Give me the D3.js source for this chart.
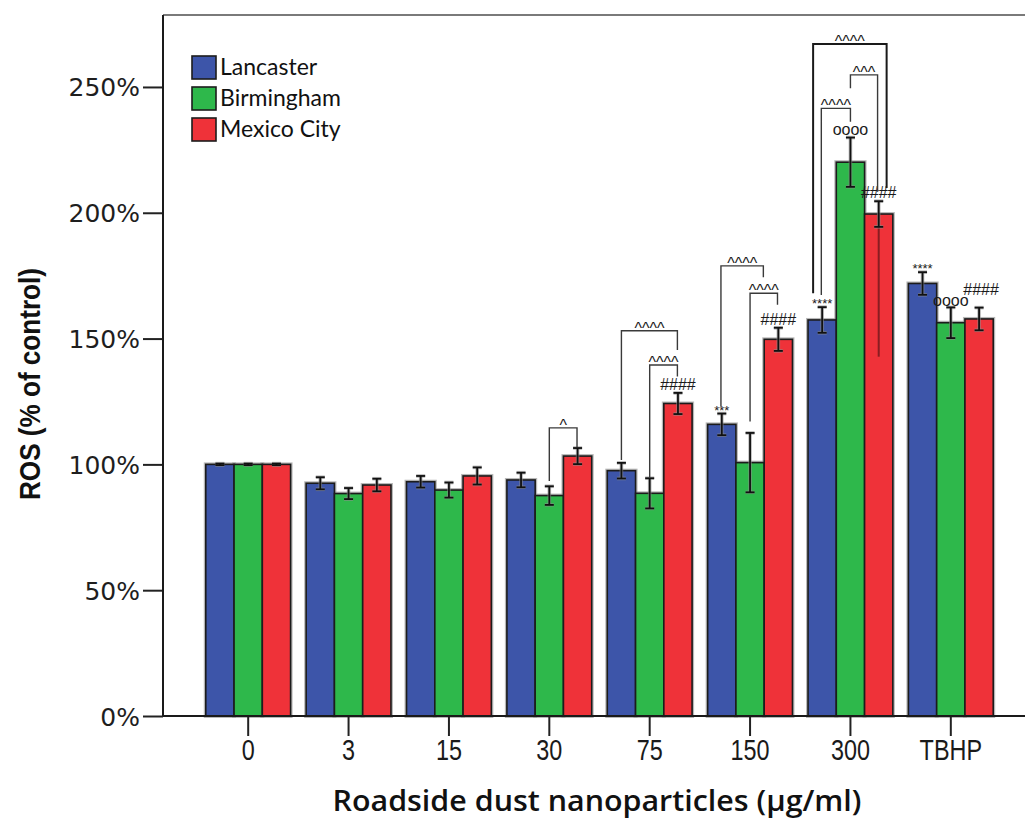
<!DOCTYPE html>
<html>
<head>
<meta charset="utf-8">
<script src="https://cdn.jsdelivr.net/npm/d3@7"></script>
<style>
  html, body { margin: 0; padding: 0; background: #fff; }
  svg { display: block; }
</style>
</head>
<body>
<svg id="chart" width="1025" height="821"></svg>
<script>
// Dose groups (µg/ml) plus the TBHP positive control
const categories = ["0", "3", "15", "30", "75", "150", "300", "TBHP"];
const seriesNames = ["Lancaster", "Birmingham", "Mexico City"];
const seriesColors = ["#3d55a9", "#2eb84b", "#ef3239"];

// Mean ROS (% of control) per site
const lancaster  = [100, 92.5, 93.1, 93.8, 97.5, 115.9, 157.4, 171.9];
const birmingham = [100, 88.4, 89.8, 87.6, 88.5, 100.7, 220.1, 156.3];
const mexicoCity = [100, 91.8, 95.4, 103.3, 124.2, 149.7, 199.5, 157.8];

// Error (±, % of control)
const lancasterErr  = [0.3, 2.4, 2.3, 2.9, 3.1, 4.3, 5.1, 4.5];
const birminghamErr = [0.3, 2.2, 3.0, 3.7, 6.0, 11.8, 9.8, 6.1];
const mexicoCityErr = [0.3, 2.5, 3.4, 3.2, 4.2, 4.6, 5.1, 4.5];

// Extended lower whisker inside the Mexico City 300 bar
const extraWhisker = [{ group: 6, series: 2, from: 199.5, to: 142.8 }];

const yTicks = [0, 50, 100, 150, 200, 250];

// Significance markers above bars: [group, series, text]
const markers = [
  [4, 2, "####"],
  [5, 0, "***"], [5, 2, "####"],
  [6, 0, "****"], [6, 1, "oooo"], [6, 2, "####"],
  [7, 0, "****"], [7, 1, "oooo"], [7, 2, "####"]
];

// Comparison brackets: group, left/right position in bar widths from group start,
// left leg start value, bracket top value, right leg end value, label
const brackets = [
  { g: 3, xl: 1.5,  xr: 2.48, yl: 93.4,  top: 114.5, yr: 106.9, label: "^" },
  { g: 4, xl: 1.5,  xr: 2.48, yl: 94.6,  top: 139.5, yr: 134.9, label: "^^^^" },
  { g: 4, xl: 0.5,  xr: 2.48, yl: 101.7, top: 153.1, yr: 145.5, label: "^^^^" },
  { g: 5, xl: 1.5,  xr: 2.47, yl: 117.0, top: 168.0, yr: 163.4, label: "^^^^" },
  { g: 5, xl: 0.47, xr: 1.97, yl: 122.9, top: 178.9, yr: 174.4, label: "^^^^" },
  { g: 6, xl: 0.47, xr: 1.5,  yl: 167.3, top: 241.5, yr: 236.2, label: "^^^^" },
  { g: 6, xl: 1.5,  xr: 2.46, yl: 249.5, top: 254.8, yr: 208.4, label: "^^^" },
  { g: 6, xl: 0.18, xr: 2.78, yl: 168.0, top: 267.1, yr: 209.8, label: "^^^^", heavy: true }
];

const means = [lancaster, birmingham, mexicoCity];
const errs = [lancasterErr, birminghamErr, mexicoCityErr];

const svg = d3.select("#chart");
const plotLeft = 163, plotRight = 1025, plotTop = 15, plotBottom = 716;

const x = d3.scaleBand()
  .domain(categories)
  .range([198, 1001])
  .paddingInner(0.155)
  .paddingOuter(0.0775);
const barW = x.bandwidth() / 3;
const xs = d3.scaleBand().domain(d3.range(3)).range([0, x.bandwidth()]);

const y = d3.scaleLinear().domain([0, 278.6]).range([plotBottom, plotTop]);

const barX = (g, u) => x(categories[g]) + u * barW;

// Frame: top line and axes
svg.append("line")
  .attr("x1", plotLeft).attr("x2", plotRight).attr("y1", plotTop).attr("y2", plotTop)
  .attr("stroke", "#7a7a7a").attr("stroke-width", 2);

const yAxis = d3.axisLeft(y).tickValues(yTicks).tickSize(20).tickFormat(d => d + "%");
const yG = svg.append("g").attr("transform", `translate(${plotLeft},0)`).call(yAxis);
yG.select(".domain").remove();
yG.selectAll(".tick line").attr("stroke", "#222").attr("stroke-width", 2);
yG.selectAll(".tick text")
  .attr("x", -23)
  .attr("dy", "0.36em")
  .attr("fill", "#1e1e1e")
  .style("font-family", "'DejaVu Sans', Verdana, sans-serif")
  .style("font-size", "25px");
svg.append("line")
  .attr("x1", plotLeft).attr("x2", plotLeft).attr("y1", plotTop).attr("y2", plotBottom)
  .attr("stroke", "#1a1a1a").attr("stroke-width", 2);

// Bars
const rows = [];
categories.forEach((c, g) => {
  for (let s = 0; s < 3; s++) rows.push({ g, s, c, v: means[s][g], e: errs[s][g] });
});

const barsG = svg.append("g");
// soft grey halo under outlines
barsG.selectAll("rect.halo").data(rows).join("rect")
  .attr("class", "halo")
  .attr("x", d => x(d.c) + xs(d.s))
  .attr("y", d => y(d.v))
  .attr("width", xs.bandwidth())
  .attr("height", d => y(0) - y(d.v))
  .attr("fill", "none")
  .attr("stroke", "#9a9a9a")
  .attr("stroke-opacity", 0.7)
  .attr("stroke-width", 4);
barsG.selectAll("rect.bar").data(rows).join("rect")
  .attr("class", "bar")
  .attr("x", d => x(d.c) + xs(d.s))
  .attr("y", d => y(d.v))
  .attr("width", xs.bandwidth())
  .attr("height", d => y(0) - y(d.v))
  .attr("fill", d => seriesColors[d.s])
  .attr("stroke", "#1c1c1c")
  .attr("stroke-width", 1.6);

// Extended whisker
svg.append("g").selectAll("line").data(extraWhisker).join("line")
  .attr("x1", d => barX(d.group, d.series + 0.5))
  .attr("x2", d => barX(d.group, d.series + 0.5))
  .attr("y1", d => y(d.from))
  .attr("y2", d => y(d.to))
  .attr("stroke", "#8a1d22").attr("stroke-width", 2);

// Error bars
const errG = svg.append("g");
rows.forEach(d => {
  const cx = x(d.c) + xs(d.s) + xs.bandwidth() / 2;
  const y1 = y(d.v + d.e), y2 = y(d.v - d.e);
  const gg = errG.append("g");
  [["#8c8c8c", 3.6, 0.6], ["#111", 1.8, 1]].forEach(([col, w, op]) => {
    gg.append("line").attr("x1", cx).attr("x2", cx).attr("y1", y1).attr("y2", y2)
      .attr("stroke", col).attr("stroke-width", w).attr("stroke-opacity", op);
    [y1, y2].forEach(yy => gg.append("line")
      .attr("x1", cx - 4.5).attr("x2", cx + 4.5).attr("y1", yy).attr("y2", yy)
      .attr("stroke", col).attr("stroke-width", w).attr("stroke-opacity", op));
  });
});

// Significance markers (TBHP hashes sit a little higher to clear the circles)
const markG = svg.append("g")
  .style("font-family", "'Liberation Sans', Arial, sans-serif")
  .attr("fill", "#1a1a1a")
  .attr("text-anchor", "middle");
markers.forEach(([g, s, t]) => {
  const yTop = y(means[s][g] + errs[s][g]);
  const isStar = t[0] === "*";
  let lift = isStar ? -1 : 3;
  if (g === 7 && t[0] === "#") lift = 13;
  if (g === 7 && t[0] === "o") lift = 1;
  markG.append("text")
    .attr("x", barX(g, s + 0.5) + (g === 7 && t[0] === "#" ? 2 : 0))
    .attr("y", yTop - lift)
    .style("font-size", isStar ? "13px" : "16px")
    .text(t);
});

// Comparison brackets
const brG = svg.append("g");
brackets.forEach(b => {
  const xl = barX(b.g, b.xl), xr = barX(b.g, b.xr);
  brG.append("path")
    .attr("d", `M${xl},${y(b.yl)}V${y(b.top)}H${xr}V${y(b.yr)}`)
    .attr("fill", "none")
    .attr("stroke", b.heavy ? "#1a1a1a" : "#3a3a3a")
    .attr("stroke-width", b.heavy ? 2 : 1.4);
  brG.append("text")
    .attr("x", (xl + xr) / 2)
    .attr("y", y(b.top) + 3)
    .attr("text-anchor", "middle")
    .attr("fill", "#1a1a1a")
    .style("font-family", "'Liberation Sans', Arial, sans-serif")
    .style("font-size", "16px")
    .text(b.label);
});

// X axis
const xAxis = d3.axisBottom(x).tickSize(20).tickSizeOuter(0);
const xG = svg.append("g").attr("transform", `translate(0,${plotBottom})`).call(xAxis);
xG.select(".domain").remove();
xG.selectAll(".tick line").attr("stroke", "#222").attr("stroke-width", 2);
xG.selectAll(".tick text")
  .attr("y", 23)
  .attr("transform", "scale(0.78,1)")
  .attr("fill", "#1a1a1a")
  .style("font-family", "'Liberation Sans', Arial, sans-serif")
  .style("font-size", "30px");
svg.append("line")
  .attr("x1", plotLeft).attr("x2", plotRight).attr("y1", plotBottom).attr("y2", plotBottom)
  .attr("stroke", "#1a1a1a").attr("stroke-width", 2);

// Axis titles
svg.append("text")
  .attr("transform", `translate(40,384) rotate(-90)`)
  .attr("text-anchor", "middle")
  .attr("textLength", 232)
  .attr("lengthAdjust", "spacingAndGlyphs")
  .attr("fill", "#111")
  .style("font-family", "'Liberation Sans', Arial, sans-serif")
  .style("font-weight", "bold")
  .style("font-size", "30px")
  .text("ROS (% of control)");

svg.append("text")
  .attr("x", 597).attr("y", 811)
  .attr("text-anchor", "middle")
  .attr("textLength", 529)
  .attr("lengthAdjust", "spacingAndGlyphs")
  .attr("fill", "#111")
  .style("font-family", "'Open Sans', sans-serif")
  .style("font-weight", "600")
  .style("font-size", "29px")
  .text("Roadside dust nanoparticles (μg/ml)");

// Legend
const lg = svg.append("g").attr("transform", "translate(192,56)");
seriesNames.forEach((n, i) => {
  const row = lg.append("g").attr("transform", `translate(0,${i * 31})`);
  row.append("rect").attr("width", 24).attr("height", 23)
    .attr("fill", seriesColors[i]).attr("stroke", "#1c1c1c").attr("stroke-width", 1.6);
  row.append("text").attr("x", 28).attr("y", 19)
    .attr("fill", "#111")
    .style("font-family", "Lato, 'Open Sans', sans-serif")
    .style("font-size", "23px")
    .text(n);
});
</script>
</body>
</html>
